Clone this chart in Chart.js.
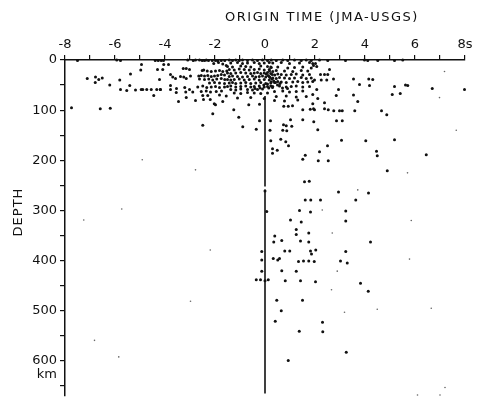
<!DOCTYPE html>
<html>
<head>
<meta charset="utf-8">
<script src="https://cdn.jsdelivr.net/npm/chart.js@4.4.0/dist/chart.umd.min.js"></script>
<style>
  html, body { margin: 0; padding: 0; background: #fff; }
  canvas { display: block; }
</style>
</head>
<body>
<canvas id="chart" width="478" height="400"></canvas>
<script>
// Diferencia de tiempo de origen (s) contra profundidad (km)
const X_TITLE = "ORIGIN TIME (JMA-USGS)";
const Y_TITLE = "DEPTH";
const xTicks = [-8, -7, -6, -5, -4, -3, -2, -1, 0, 1, 2, 3, 4, 5, 6, 7, 8];
const yTicks = [0, 50, 100, 150, 200, 250, 300, 350, 400, 450, 500, 550, 600, 628, 650];
const KM_TICK = 628;
const DEPTH_MAX = 670;

// [tiempo, profundidad]
const shallowWest = [
  [-7.5,1],[-5.93,0],[-5.78,1],[-4.39,1],[-4.27,1],[-4.15,1],[-4.94,9],[-4.3,19],[-4.97,20],
  [-7.11,37],[-6.78,34],[-6.65,39],[-6.51,36],[-6.79,45],[-5.81,40],[-5.38,28],[-6.21,50],[-5.41,51],
  [-4.22,39],[-5.78,59],[-5.53,61],[-5.18,60],[-4.95,59],[-4.89,59],[-4.73,59],[-4.55,59],[-4.33,59],
  [-4.19,59],[-4.45,71],[-7.74,95],[-6.59,97],[-6.19,96],
  [-4.06,1],[-3.09,0],[-2.87,1],[-2.78,0],[-2.62,0],[-2.51,1],[-2.42,1],[-2.35,0],[-2.26,1],[-2.11,1],
  [-1.98,1],[-1.89,2],[-1.75,1],[-1.61,1],
  [-4.05,9],[-3.86,9],[-2.05,7],[-1.86,5],[-1.69,8],[-1.55,11],[-4.09,19],[-3.27,17],[-3.15,17],[-3.02,19],
  [-2.51,21],[-2.45,20],[-2.31,22],[-2.15,23],[-1.98,22],[-1.82,21],[-1.69,23],[-1.53,22],
  [-3.78,29],[-3.69,34],[-3.58,37],[-3.38,33],[-3.25,34],[-3.15,37],[-2.98,32],[-2.65,32],[-2.55,31],
  [-2.42,32],[-2.29,31],[-2.15,33],[-2.02,32],[-1.89,31],[-1.75,29],[-1.62,30],
  [-2.62,38],[-2.42,39],[-2.25,38],[-2.09,40],[-1.93,38],[-1.75,37],[-1.61,39],[-2.22,46],[-2.02,45],
  [-1.82,46],[-1.62,47],
  [-4.18,59],[-3.78,51],[-3.78,59],[-3.54,57],[-3.21,55],[-3.02,59],[-2.69,54],[-2.49,52],[-2.33,55],
  [-2.15,54],[-1.98,53],[-1.82,55],[-1.62,54],
  [-3.55,65],[-3.17,64],[-2.89,64],[-2.55,63],[-2.35,62],[-2.18,64],[-1.95,63],[-1.74,62],[-2.49,71],
  [-2.29,71],[-1.82,70],[-1.55,72],[-3.15,75],[-2.78,81],[-2.46,79],[-2.19,79],[-3.46,83],[-1.69,83],
  [-2.03,87],[-1.98,89]
];

const shallowCore = [
  [-1.43,0],[-1.3,1],[-1.17,0],[-1.03,1],[-0.9,0],[-0.7,1],[-0.5,0],[-0.3,1],[-0.1,0],[0.1,1],
  [-1.37,6],[-1.1,5],[-0.9,7],[-0.7,6],[-0.43,5],[-0.23,7],[-0.03,6],[0.17,5],
  [-1.5,13],[-1.3,14],[-0.97,12],[-0.77,13],[-0.57,14],[-0.17,12],[0.1,13],[0.23,14],
  [-1.43,19],[-1.23,20],[-1.03,18],[-0.83,19],[-0.63,20],[-0.43,19],[-0.23,18],[-0.03,20],[0.17,19],
  [-1.5,26],[-1.37,27],[-1.17,26],[-0.97,25],[-0.77,26],[-0.57,27],[-0.43,26],[-0.3,25],[-0.17,27],
  [-0.03,26],[0.1,25],[0.23,27],
  [-1.43,33],[-1.3,32],[-1.1,33],[-0.9,34],[-0.7,33],[-0.5,32],[-0.37,34],[-0.23,33],[-0.1,32],
  [0.03,34],[0.17,33],
  [-1.5,39],[-1.37,40],[-1.23,39],[-1.03,38],[-0.83,40],[-0.63,39],[-0.43,38],[-0.23,40],[-0.03,39],[0.17,40],
  [-1.43,46],[-1.3,45],[-1.17,47],[-0.97,46],[-0.77,45],[-0.57,47],[-0.37,46],[-0.17,45],[0.03,47],[0.23,46],
  [-1.5,53],[-1.37,52],[-1.17,54],[-0.97,53],[-0.77,52],[-0.57,54],[-0.43,53],[-0.23,52],[-0.03,54],
  [0.1,53],[0.23,52],
  [-1.37,59],[-1.17,60],[-0.97,58],[-0.7,59],[-0.5,60],[-0.3,59],[-0.1,58],
  [-1.23,66],[-0.97,67],[-0.7,65],[-0.43,66],[-0.17,67],[0.1,66],
  [-1.1,76],[-0.57,75],[-0.03,77],
  [0.05,28],[0.12,31],[0.2,35],[0.28,38],[0.35,42],[0.42,45],[0.1,48],[-0.05,50],[0.15,56],[0.3,55],
  [0.5,50],[0.6,47],[0.7,56],[0.9,57],[-0.2,56],[-0.4,57],[-0.65,89],[-0.22,88]
];

const shallowEast = [
  [0.25,0],[0.45,1],[0.71,0],[0.91,1],[1.18,0],[1.45,1],[1.65,0],[1.85,1],
  [0.31,6],[0.65,5],[0.98,7],[1.38,6],[1.78,5],[1.91,7],
  [0.25,15],[0.51,14],[0.91,16],[1.18,15],[1.51,14],[1.85,16],
  [0.18,22],[0.31,23],[0.45,21],[0.78,22],[1.11,23],[1.45,21],[1.71,22],
  [0.29,29],[0.39,30],[0.51,28],[0.65,29],[0.85,30],[1.05,29],[1.25,28],[1.51,30],[1.78,29],
  [0.31,36],[0.45,37],[0.58,35],[0.78,36],[0.98,37],[1.18,36],[1.45,35],[1.65,37],[1.85,36],
  [0.25,44],[0.38,45],[0.51,43],[0.65,44],[0.85,45],[1.11,44],[1.31,43],[1.51,45],[1.71,44],[1.91,43],
  [0.31,53],[0.58,52],[0.85,54],[1.05,53],[1.25,52],[1.51,54],[1.78,53],
  [0.38,63],[0.71,62],[0.98,64],[1.25,63],[1.51,62],
  [0.45,73],[0.85,72],[1.25,74],[1.65,73],
  [0.38,81],[0.78,82],[1.31,80],
  [0.75,92],[0.93,92],[1.1,91]
];

const shallowFar = [
  [2.18,0],[2.51,1],[3.22,1],[3.98,0],[4.11,1],[4.51,1],[5.18,1],[5.51,0],
  [2.02,7],[1.94,11],[2.07,13],[2.58,19],[2.22,29],[2.38,29],[2.51,29],[1.98,40],[2.25,40],[2.47,40],
  [2.74,38],[3.54,38],[4.15,38],[4.31,39],[3.78,49],[4.18,51],[2.07,59],[2.94,59],[5.18,53],[5.62,50],
  [5.71,51],[6.69,57],[7.98,59],[1.91,69],[2.11,77],[2.85,71],[3.54,70],[3.71,83],[5.09,69],[5.41,67],
  [1.91,87],[2.38,85],[1.94,97],[2.38,97]
];

const intermediate = [
  [-1.25,99],[-2.09,107],[-1.05,114],[-0.22,121],[-2.49,130],[-0.89,133],[-0.35,138],[0.22,121],[0.2,140],
  [0.74,129],[0.85,131],[1.07,132],[1.02,119],[0.71,140],[0.87,141],[1.51,119],[1.95,123],[2.11,139],
  [1.51,99],[1.81,98],[1.98,99],[2.53,99],[2.75,101],[2.98,101],[3.09,101],[3.59,101],[4.66,101],
  [4.87,109],[2.86,121],[3.09,121],
  [0.23,161],[0.63,158],[0.83,163],[0.94,171],[0.3,177],[0.49,180],[0.3,186],[3.06,160],[4.03,161],
  [2.5,171],[2.18,183],[1.61,190],[1.51,198],[2.13,201],[2.53,201],[4.46,182],[4.49,191],[4.89,221],
  [5.18,159],[6.45,189],
  [1.58,243],[1.77,242],[0,261],[2.94,263],[4.14,265],[1.61,279],[1.83,279],[2.22,279],[3.63,279],
  [0.07,302],[1.38,300],[1.82,303],[3.23,301]
];

const deep = [
  [3.23,321],[1.02,319],[1.45,323],[1.25,338],[1.25,348],[1.75,345],[0.39,351],[0.35,363],[0.67,360],
  [1.42,361],[1.75,363],[4.22,363],[-0.13,382],[0.79,381],[0.99,381],[1.82,381],[2.03,379],[3.23,382],
  [1.86,387],[-0.13,399],[0.33,396],[0.51,399],[0.58,396],[1.34,402],[1.54,401],[1.75,401],[1.97,402],
  [3.02,401],[3.29,405],[-0.13,421],[0.67,420],[1.25,421],[-0.35,438],[-0.18,438],[0,440],[0.13,438],
  [0.81,440],[1.42,440],[2.02,442],[3.82,445],[4.13,461],[0.47,479],[1.5,479],[0.65,500],[0.41,521],
  [2.3,523],[1.37,541],[2.31,542],[3.25,583],[0.93,599]
];

// marcas pequenas / tenues del escaneo
const faint = [
  [-2.78,219],[-4.91,199],[-5.73,297],[-7.25,319],[7.65,140],[5.85,320],[5.7,225],[3.71,259],[2.69,345],
  [2.29,299],[-2.19,379],[5.78,397],[2.89,421],[2.66,458],[-2.98,481],[3.18,503],[4.49,497],[6.65,495],
  [-6.82,559],[-5.85,592],[7.18,23],[6.98,75],[7.2,653],[7.0,668],[6.1,668]
];

// linea vertical en t = 0 (con un corte)
const zeroLine = [[0,72],[0,252],[0,null],[0,258],[0,665]];

const INK = "#111";
const toXY = (arr) => arr.map(([x, y]) => ({ x, y }));

// sin relleno extra en los extremos de los ejes
function fixScale(s, w, h) {
  if (w) s.width = w;
  if (h) s.height = h;
  s.paddingLeft = 0;
  s.paddingRight = 0;
  s.paddingTop = 0;
  s.paddingBottom = 0;
}

const titlesPlugin = {
  id: "titles",
  afterDraw(chart) {
    const c = chart.ctx;
    c.save();
    c.fillStyle = INK;
    c.font = '13px "DejaVu Sans"';
    c.textAlign = "center";
    c.textBaseline = "middle";
    c.letterSpacing = "1.5px";
    c.fillText(X_TITLE, 322, 18);
    c.translate(19, 212);
    c.rotate(-Math.PI / 2);
    c.letterSpacing = "1px";
    c.fillText(Y_TITLE, 0, 0);
    c.restore();
  },
};

const mainPoints = [].concat(shallowWest, shallowCore, shallowEast, shallowFar, intermediate, deep);

new Chart(document.getElementById("chart"), {
  type: "scatter",
  data: {
    datasets: [
      {
        data: toXY(zeroLine),
        showLine: true,
        spanGaps: false,
        borderColor: INK,
        borderWidth: 1.6,
        pointRadius: 0,
      },
      {
        data: toXY(mainPoints),
        pointRadius: 1.5,
        pointBorderWidth: 0,
        pointBackgroundColor: INK,
        clip: false,
      },
      {
        data: toXY(faint),
        pointRadius: 0.8,
        pointBorderWidth: 0,
        pointBackgroundColor: "#666",
        clip: false,
      },
    ],
  },
  options: {
    responsive: false,
    animation: false,
    layout: { padding: { left: 0, top: 0, right: 13, bottom: 0 } },
    plugins: { legend: { display: false }, tooltip: { enabled: false } },
    scales: {
      x: {
        type: "linear",
        position: "top",
        min: -8,
        max: 8,
        afterBuildTicks: (s) => { s.ticks = xTicks.map((v) => ({ value: v })); },
        afterFit: (s) => fixScale(s, 0, 60),
        border: { display: true, color: INK, width: 1.5 },
        grid: { drawOnChartArea: false, drawTicks: true, tickLength: 5, color: INK, lineWidth: 1.2 },
        ticks: {
          autoSkip: false,
          maxRotation: 0,
          padding: 3,
          color: INK,
          font: { family: "DejaVu Sans", size: 13 },
          callback: (v) => (v % 2 === 0 ? (v === 8 ? "8s" : String(v)) : ""),
        },
      },
      y: {
        type: "linear",
        position: "left",
        reverse: true,
        min: 0,
        max: DEPTH_MAX,
        afterBuildTicks: (s) => { s.ticks = yTicks.map((v) => ({ value: v })); },
        afterFit: (s) => fixScale(s, 65, 0),
        border: { display: true, color: INK, width: 1.5 },
        grid: {
          drawOnChartArea: false,
          drawTicks: true,
          tickLength: 5,
          lineWidth: 1.2,
          tickColor: (ctx) => (ctx.tick && ctx.tick.value === KM_TICK ? "rgba(0,0,0,0)" : INK),
        },
        ticks: {
          autoSkip: false,
          padding: 3,
          color: INK,
          font: { family: "DejaVu Sans", size: 13 },
          callback: (v) => (v === KM_TICK ? "km" : v % 100 === 0 ? String(v) : ""),
        },
      },
    },
  },
  plugins: [titlesPlugin],
});
</script>
</body>
</html>
